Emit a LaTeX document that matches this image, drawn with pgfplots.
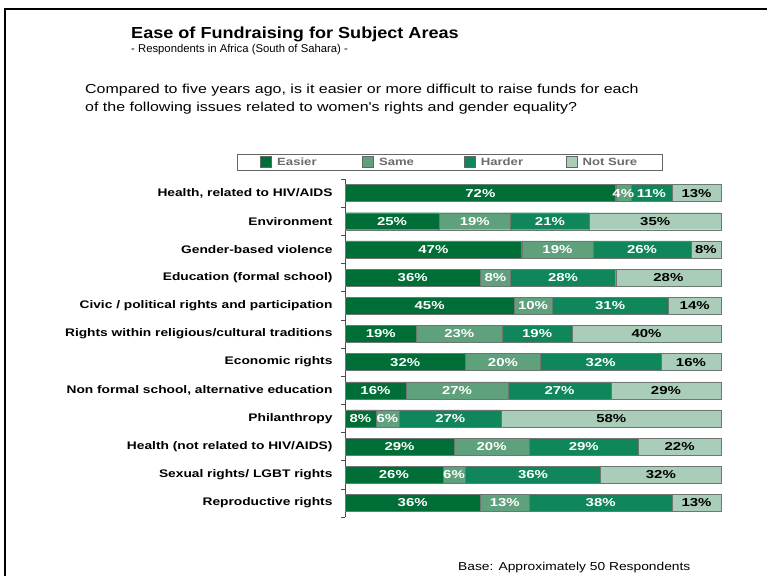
\documentclass[border=0pt]{standalone}
\usepackage{pgfplots}
\pgfplotsset{compat=1.18}
\usepackage{fontspec}
\setmainfont{Liberation Sans}
\newfontfamily\titlefont[FakeStretch=1.13]{Liberation Sans}
\newfontfamily\catfont[FakeStretch=1.25]{Liberation Sans}
\newfontfamily\lblfont[FakeStretch=1.3]{Liberation Sans}
\newfontfamily\qfont[FakeStretch=1.23]{Liberation Sans}
\newfontfamily\basefont[FakeStretch=1.2]{Liberation Sans}
\definecolor{cEasier}{RGB}{0,110,55}
\definecolor{cSame}{RGB}{95,160,125}
\definecolor{cHarder}{RGB}{16,135,90}
\definecolor{cNot}{RGB}{170,205,185}
\definecolor{cBorder}{RGB}{110,120,115}
\begin{document}
\begin{tikzpicture}[x=1pt,y=1pt]
\path[use as bounding box] (0,0) rectangle (767,575);
\draw[line width=2pt] (5,-5) -- (5,566) -- (775,566);
\node[anchor=base west, inner sep=0] at (131,536) {\titlefont\fontsize{16}{19}\selectfont\bfseries Ease of Fundraising for Subject Areas};
\node[anchor=base west, inner sep=0] at (131,522) {\fontsize{11.3}{13}\selectfont - Respondents in Africa (South of Sahara) -};
\node[anchor=base west, inner sep=0] at (85,481) {\qfont\fontsize{13}{15}\selectfont Compared to five years ago, is it easier or more difficult to raise funds for each};
\node[anchor=base west, inner sep=0] at (85,463) {\qfont\fontsize{13}{15}\selectfont of the following issues related to women's rights and gender equality?};
\node[anchor=base west, inner sep=0] at (458,5) {\basefont\fontsize{11.5}{13}\selectfont Base: Approximately 50 Respondents};
\begin{axis}[
  at={(345pt,58pt)}, anchor=south west,
  scale only axis, width=376pt, height=338pt,
  xbar stacked, bar width=17pt,
  xmin=0, xmax=100,
  ymin=0.5, ymax=12.5, y dir=reverse,
  clip=false,
  axis x line=none,
  axis y line*=left,
  y axis line style={draw=black!70, line width=0.6pt},
  ytick={1,...,12},
  yticklabels={{Health, related to HIV/AIDS},{Environment},{Gender-based violence},{Education (formal school)},{Civic / political rights and participation},{Rights within religious/cultural traditions},{Economic rights},{Non formal school, alternative education},{Philanthropy},{Health (not related to HIV/AIDS)},{Sexual rights/ LGBT rights},{Reproductive rights}},
  major tick length=0pt,
  minor ytick={0.5,1.5,...,12.5},
  minor tick length=4pt,
  tick align=outside,
  minor tick style={draw=black!70, line width=0.6pt},
  yticklabel style={anchor=east, xshift=-9pt, font=\catfont\fontsize{11}{13}\selectfont\bfseries},
  nodes near coords={\pgfmathprintnumber[fixed,precision=0,assume math mode=true]{\pgfplotspointmeta}\%},
  every node near coord/.append style={font=\lblfont\fontsize{11.5}{13}\selectfont\bfseries},
  legend columns=4,
  legend style={at={(-0.2872,1.050)}, anchor=west, draw=black!60, line width=0.8pt, inner xsep=4pt, inner ysep=1.5pt,
    font=\catfont\fontsize{10.5}{12}\selectfont\bfseries, text=black!58},
  legend cell align=left,
]
\addplot+[fill=cEasier, draw=cBorder, every node near coord/.append style={text=white},
  legend image code/.code={\path (-19pt,0pt); \draw[fill=cEasier, draw=black!60] (0pt,-5.5pt) rectangle (11pt,5.5pt);}]
  coordinates {(72,1) (25,2) (47,3) (36,4) (45,5) (19.0,6) (32,7) (16.2,8) (8.2,9) (29,10) (26,11) (36,12)};
\addlegendentry{\makebox[86pt][l]{\hspace{3pt}Easier}}
\addplot+[fill=cSame, draw=cBorder, every node near coord/.append style={text=white},
  legend image code/.code={\draw[fill=cSame, draw=black!60] (0pt,-5.5pt) rectangle (11pt,5.5pt);}]
  coordinates {(4,1) (19,2) (19,3) (8,4) (10,5) (22.8,6) (20,7) (27.2,8) (6.2,9) (20,10) (6,11) (13,12)};
\addlegendentry{\makebox[86pt][l]{\hspace{3pt}Same}}
\addplot+[fill=cHarder, draw=cBorder, every node near coord/.append style={text=white},
  legend image code/.code={\draw[fill=cHarder, draw=black!60] (0pt,-5.5pt) rectangle (11pt,5.5pt);}]
  coordinates {(11,1) (21,2) (26,3) (28,4) (31,5) (18.6,6) (32,7) (27.3,8) (27.2,9) (29,10) (36,11) (38,12)};
\addlegendentry{\makebox[86pt][l]{\hspace{3pt}Harder}}
\addplot+[fill=cNot, draw=cBorder, every node near coord/.append style={text=black},
  legend image code/.code={\draw[fill=cNot, draw=black!60] (0pt,-5.5pt) rectangle (11pt,5.5pt);}]
  coordinates {(13,1) (35,2) (8,3) (28,4) (14,5) (39.6,6) (16,7) (29.3,8) (58.4,9) (22,10) (32,11) (13,12)};
\addlegendentry{\makebox[77pt][l]{\hspace{3pt}Not Sure}}
\end{axis}
\end{tikzpicture}
\end{document}
